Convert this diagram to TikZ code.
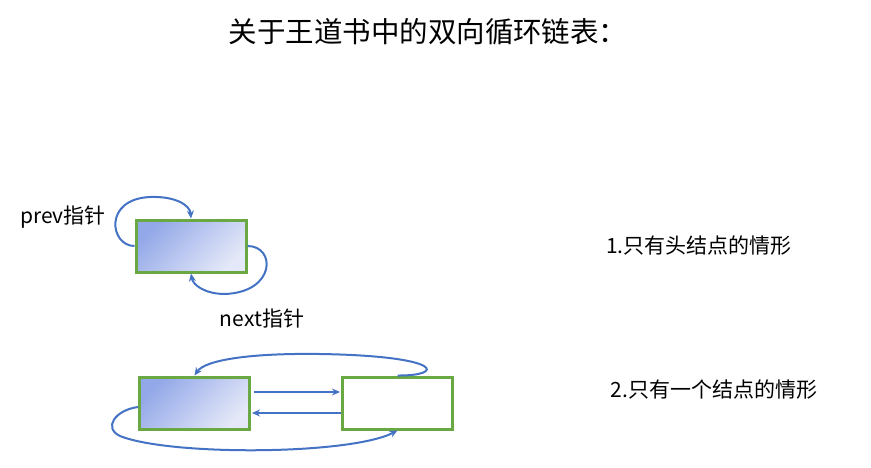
\documentclass[tikz,border=0pt]{standalone}
\usepackage{fontspec}
\setmainfont{Noto Sans CJK SC}
\usetikzlibrary{arrows.meta,calc}
\definecolor{boxgreen}{HTML}{6AA843}
\definecolor{arrblue}{HTML}{4472C4}
\definecolor{gradA}{HTML}{93A8E8}
\definecolor{gradB}{HTML}{E4E8F8}
\tikzset{
  listbox/.style={draw=boxgreen, line width=3pt, minimum width=110pt, minimum height=52pt, inner sep=0pt},
  filledbox/.style={listbox, left color=gradA, right color=gradB, shading angle=45},
  link/.style={draw=arrblue, line width=2pt, -{Stealth[length=8pt,width=7pt]}},
  lbl/.style={font=\fontsize{21pt}{23pt}\selectfont, inner sep=0pt},
}
\begin{document}
\begin{tikzpicture}[x=1pt,y=-1pt]
\useasboundingbox (0,0) rectangle (871,467);
\node[font=\fontsize{28.5pt}{31pt}\selectfont, inner sep=0pt] (title) at (428,32) {关于王道书中的双向循环链表：};
\node[filledbox] (b1) at (191,246) {};
\node[filledbox] (b2) at (194.5,403) {};
\node[listbox] (b3) at (397.5,403) {};
\node[lbl] (prev) at (63,217) {prev指针};
\node[lbl] (next) at (262,319) {next指针};
\node[lbl] (c1) at (699,246) {1.只有头结点的情形};
\node[lbl] (c2) at (714,390) {2.只有一个结点的情形};
\draw[link] (b1.west) .. controls (110,246) and (103,199) .. (150,197) .. controls (175,196) and (190,205) .. (b1.north);
\draw[link] (b1.east) .. controls (276,246) and (276,292) .. (225,294) .. controls (205,294) and (193,285) .. (b1.south);
\draw[link] ($(b2.east)+(3,-11)$) -- ($(b3.west)+(-1,-11)$);
\draw[link] ($(b3.west)+(0,10)$) -- ($(b2.east)+(1,10)$);
\draw[link] (b3.north) .. controls (445,376) and (445,356) .. (320,354) .. controls (250,353) and (205,360) .. (b2.north);
\draw[link] ($(b2.west)+(0,4)$) .. controls (115,410) and (103,428) .. (120,436) .. controls (170,456) and (350,455) .. (b3.south);
\end{tikzpicture}
\end{document}
